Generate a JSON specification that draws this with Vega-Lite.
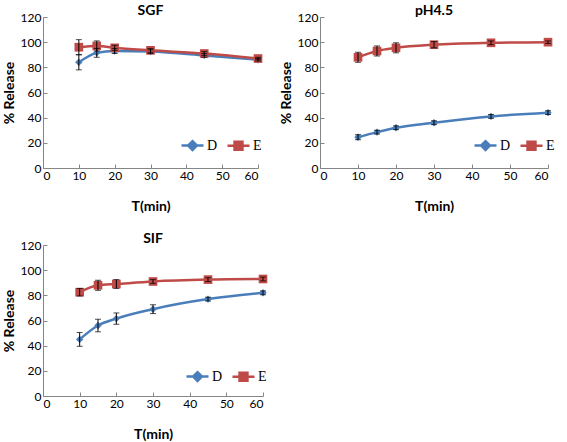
{
  "$schema": "https://vega.github.io/schema/vega-lite/v6.json",
  "padding": {"left": 2, "top": 4, "right": 2, "bottom": 0},
  "background": "white",
  "datasets": {
    "rel": [
      {"panel": "SGF", "series": "D", "t": 10, "y": 84, "err": 6},
      {"panel": "SGF", "series": "D", "t": 15, "y": 91.5, "err": 3.5},
      {"panel": "SGF", "series": "D", "t": 20, "y": 93, "err": 2},
      {"panel": "SGF", "series": "D", "t": 30, "y": 92.5, "err": 1.5},
      {"panel": "SGF", "series": "D", "t": 45, "y": 89.5, "err": 1.5},
      {"panel": "SGF", "series": "D", "t": 60, "y": 86, "err": 1},
      {"panel": "SGF", "series": "E", "t": 10, "y": 96, "err": 6},
      {"panel": "SGF", "series": "E", "t": 15, "y": 97, "err": 4},
      {"panel": "SGF", "series": "E", "t": 20, "y": 95.5, "err": 2},
      {"panel": "SGF", "series": "E", "t": 30, "y": 93.5, "err": 1.5},
      {"panel": "SGF", "series": "E", "t": 45, "y": 91, "err": 1.5},
      {"panel": "SGF", "series": "E", "t": 60, "y": 87, "err": 1},
      {"panel": "pH4.5", "series": "D", "t": 10, "y": 24.5, "err": 2},
      {"panel": "pH4.5", "series": "D", "t": 15, "y": 28.5, "err": 1.5},
      {"panel": "pH4.5", "series": "D", "t": 20, "y": 32, "err": 1.5},
      {"panel": "pH4.5", "series": "D", "t": 30, "y": 36, "err": 1.5},
      {"panel": "pH4.5", "series": "D", "t": 45, "y": 41, "err": 1.5},
      {"panel": "pH4.5", "series": "D", "t": 60, "y": 44, "err": 1.5},
      {"panel": "pH4.5", "series": "E", "t": 10, "y": 88, "err": 4},
      {"panel": "pH4.5", "series": "E", "t": 15, "y": 93, "err": 4},
      {"panel": "pH4.5", "series": "E", "t": 20, "y": 95.5, "err": 4},
      {"panel": "pH4.5", "series": "E", "t": 30, "y": 98, "err": 2.5},
      {"panel": "pH4.5", "series": "E", "t": 45, "y": 99.5, "err": 1.5},
      {"panel": "pH4.5", "series": "E", "t": 60, "y": 100, "err": 1},
      {"panel": "SIF", "series": "D", "t": 10, "y": 45, "err": 5.5},
      {"panel": "SIF", "series": "D", "t": 15, "y": 56, "err": 5},
      {"panel": "SIF", "series": "D", "t": 20, "y": 61.5, "err": 4.5},
      {"panel": "SIF", "series": "D", "t": 30, "y": 69, "err": 3.5},
      {"panel": "SIF", "series": "D", "t": 45, "y": 77, "err": 1.5},
      {"panel": "SIF", "series": "D", "t": 60, "y": 82, "err": 1.5},
      {"panel": "SIF", "series": "E", "t": 10, "y": 82.5, "err": 3},
      {"panel": "SIF", "series": "E", "t": 15, "y": 88, "err": 4},
      {"panel": "SIF", "series": "E", "t": 20, "y": 89, "err": 3.5},
      {"panel": "SIF", "series": "E", "t": 30, "y": 91, "err": 1.5},
      {"panel": "SIF", "series": "E", "t": 45, "y": 92.5, "err": 1.5},
      {"panel": "SIF", "series": "E", "t": 60, "y": 93, "err": 1.5}
    ]
  },
  "data": {"name": "rel"},
  "config": {
    "view": {"stroke": null},
    "font": "Lato",
    "title": {"font": "Lato", "fontSize": 14, "fontWeight": "bold", "color": "black", "offset": -7},
    "axis": {
      "grid": false,
      "domainColor": "#868686",
      "tickColor": "#868686",
      "tickSize": -4,
      "labelFont": "Lato",
      "labelFontSize": 12,
      "labelColor": "black",
      "labelPadding": 6,
      "labelOverlap": false,
      "titleFont": "Lato",
      "titleFontSize": 14,
      "titleFontWeight": "bold",
      "titleColor": "black"
    },
    "axisX": {"titlePadding": 18},
    "legend": {
      "orient": "none",
      "direction": "horizontal",
      "title": null,
      "labelFont": "Liberation Serif",
      "labelFontSize": 14,
      "labelColor": "black",
      "symbolSize": 484,
      "symbolStrokeWidth": 2.5,
      "symbolOpacity": 1,
      "columnPadding": 4,
      "labelOffset": 2
    }
  },
  "vconcat": [
    {
      "hconcat": [
        {
          "width": 215, "height": 151,
          "title": "SGF",
          "transform": [{"filter": "datum.panel === 'SGF'"}],
          "encoding": {
            "x": {"field": "t", "type": "quantitative", "scale": {"domain": [0, 60], "nice": false}, "axis": {"values": [0,10,20,30,40,50,60], "title": "T(min)"}},
            "y": {"field": "y", "type": "quantitative", "scale": {"domain": [0, 120], "nice": false}, "axis": {"values": [0,20,40,60,80,100,120], "title": "% Release"}}
          },
          "layer": [
            {"mark": {"type": "line", "interpolate": "monotone", "strokeWidth": 2.5},
             "encoding": {
               "color": {"field": "series", "type": "nominal", "scale": {"domain": ["D","E"], "range": ["#4A7EBB","#BE4B48"]},
                 "legend": {"legendX": 137, "legendY": 116,
                   "encoding": {"symbols": {
                     "shape": {"condition": {"test": "datum.value === 'D'", "value": "M-1,0H1M0,-0.4L0.4,0L0,0.4L-0.4,0Z"}, "value": "M-1,0H1M-0.36,-0.36H0.36V0.36H-0.36Z"},
                     "fill": {"condition": {"test": "datum.value === 'D'", "value": "#4A7EBB"}, "value": "#BE4B48"},
                     "stroke": {"condition": {"test": "datum.value === 'D'", "value": "#4A7EBB"}, "value": "#BE4B48"}}}}}
             }},
            {"mark": {"type": "point", "filled": true, "opacity": 1},
             "encoding": {
               "color": {"field": "series", "type": "nominal"},
               "shape": {"condition": {"test": "datum.series === 'D'", "value": "diamond"}, "value": "square"},
               "size": {"condition": {"test": "datum.series === 'D'", "value": 55}, "value": 75}
             }},
            {"mark": {"type": "errorbar", "ticks": {"size": 6, "color": "black"}, "rule": {"color": "black", "strokeWidth": 1}},
             "encoding": {
               "y": {"field": "y", "type": "quantitative", "axis": {"values": [0,20,40,60,80,100,120], "title": "% Release"}},
               "yError": {"field": "err"}
             }}
          ]
        },
        {
          "width": 228, "height": 151,
          "title": "pH4.5",
          "transform": [{"filter": "datum.panel === 'pH4.5'"}],
          "encoding": {
            "x": {"field": "t", "type": "quantitative", "scale": {"domain": [0, 60], "nice": false}, "axis": {"values": [0,10,20,30,40,50,60], "title": "T(min)"}},
            "y": {"field": "y", "type": "quantitative", "scale": {"domain": [0, 120], "nice": false}, "axis": {"values": [0,20,40,60,80,100,120], "title": "% Release"}}
          },
          "layer": [
            {"mark": {"type": "line", "interpolate": "monotone", "strokeWidth": 2.5},
             "encoding": {
               "color": {"field": "series", "type": "nominal", "scale": {"domain": ["D","E"], "range": ["#4A7EBB","#BE4B48"]},
                 "legend": {"legendX": 153, "legendY": 116,
                   "encoding": {"symbols": {
                     "shape": {"condition": {"test": "datum.value === 'D'", "value": "M-1,0H1M0,-0.4L0.4,0L0,0.4L-0.4,0Z"}, "value": "M-1,0H1M-0.36,-0.36H0.36V0.36H-0.36Z"},
                     "fill": {"condition": {"test": "datum.value === 'D'", "value": "#4A7EBB"}, "value": "#BE4B48"},
                     "stroke": {"condition": {"test": "datum.value === 'D'", "value": "#4A7EBB"}, "value": "#BE4B48"}}}}}
             }},
            {"mark": {"type": "point", "filled": true, "opacity": 1},
             "encoding": {
               "color": {"field": "series", "type": "nominal"},
               "shape": {"condition": {"test": "datum.series === 'D'", "value": "diamond"}, "value": "square"},
               "size": {"condition": {"test": "datum.series === 'D'", "value": 55}, "value": 75}
             }},
            {"mark": {"type": "errorbar", "ticks": {"size": 6, "color": "black"}, "rule": {"color": "black", "strokeWidth": 1}},
             "encoding": {
               "y": {"field": "y", "type": "quantitative", "axis": {"values": [0,20,40,60,80,100,120], "title": "% Release"}},
               "yError": {"field": "err"}
             }}
          ]
        }
      ],
      "spacing": 16,
      "resolve": {"legend": {"color": "independent"}, "scale": {"color": "independent"}}
    },
    {
      "width": 220, "height": 151,
      "title": "SIF",
      "transform": [{"filter": "datum.panel === 'SIF'"}],
      "encoding": {
        "x": {"field": "t", "type": "quantitative", "scale": {"domain": [0, 60], "nice": false}, "axis": {"values": [0,10,20,30,40,50,60], "title": "T(min)"}},
        "y": {"field": "y", "type": "quantitative", "scale": {"domain": [0, 120], "nice": false}, "axis": {"values": [0,20,40,60,80,100,120], "title": "% Release"}}
      },
      "layer": [
        {"mark": {"type": "line", "interpolate": "monotone", "strokeWidth": 2.5},
         "encoding": {
           "color": {"field": "series", "type": "nominal", "scale": {"domain": ["D","E"], "range": ["#4A7EBB","#BE4B48"]},
             "legend": {"legendX": 142, "legendY": 119,
               "encoding": {"symbols": {
                 "shape": {"condition": {"test": "datum.value === 'D'", "value": "M-1,0H1M0,-0.4L0.4,0L0,0.4L-0.4,0Z"}, "value": "M-1,0H1M-0.36,-0.36H0.36V0.36H-0.36Z"},
                 "fill": {"condition": {"test": "datum.value === 'D'", "value": "#4A7EBB"}, "value": "#BE4B48"},
                 "stroke": {"condition": {"test": "datum.value === 'D'", "value": "#4A7EBB"}, "value": "#BE4B48"}}}}}
         }},
        {"mark": {"type": "point", "filled": true, "opacity": 1},
         "encoding": {
           "color": {"field": "series", "type": "nominal"},
           "shape": {"condition": {"test": "datum.series === 'D'", "value": "diamond"}, "value": "square"},
           "size": {"condition": {"test": "datum.series === 'D'", "value": 55}, "value": 75}
         }},
        {"mark": {"type": "errorbar", "ticks": {"size": 6, "color": "black"}, "rule": {"color": "black", "strokeWidth": 1}},
         "encoding": {
           "y": {"field": "y", "type": "quantitative", "axis": {"values": [0,20,40,60,80,100,120], "title": "% Release"}},
           "yError": {"field": "err"}
         }}
      ]
    }
  ],
  "spacing": 19,
  "resolve": {"legend": {"color": "independent"}, "scale": {"color": "independent"}}
}
